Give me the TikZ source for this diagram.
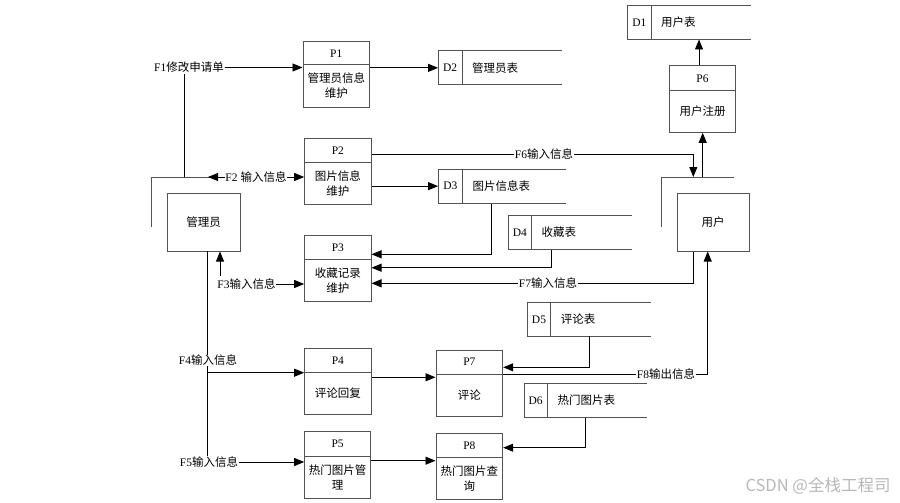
\documentclass[tikz,border=0pt]{standalone}
\usepackage{fontspec}
\setmainfont{Liberation Serif}
\newfontfamily\cjk{Noto Sans CJK SC}
\usetikzlibrary{arrows.meta}
\newcommand\proc[8]{%
  \node[bord,inner sep=0,minimum width={#4-#2},minimum height={#5-#3}] (#1) at ({(#2+#4)/2},{(#3+#5)/2}) {};
  \draw[bord] (#2,#6) -- (#4,#6);
  \node[txt] (#1id) at ({(#2+#4)/2},{(#3+#6)/2}) {#7};
  \node[ctxt] (#1tx) at ({(#2+#4)/2},{(#6+#5)/2}) {#8};
}
\newcommand\dstore[8]{%
  \draw[bord] (#5,#3) -- (#2,#3) -- (#2,#6) -- (#5,#6);
  \draw[bord] (#4,#3) -- (#4,#6);
  \node[inner sep=0,minimum width={#5-#2},minimum height={#6-#3}] (#1) at ({(#2+#5)/2},{(#3+#6)/2}) {};
  \node[txt] (#1id) at ({(#2+#4)/2},{(#3+#6)/2}) {#7};
  \node[ctxt,anchor=west] (#1tx) at ({#4+9},{(#3+#6)/2}) {#8};
}
\newcommand\entity[6]{%
  \draw[bord] ({#2-16},{#3+34}) -- ({#2-16},{#3-16}) -- ({#4-15},{#3-16});
  \node[bord,ctxt,inner sep=0,minimum width={#4-#2},minimum height={#5-#3}] (#1) at ({(#2+#4)/2},{(#3+#5)/2}) {#6};
}
\begin{document}
\begin{tikzpicture}[x=1pt,y=-1pt,
  bord/.style={draw=black!68,line width=1pt},
  ln/.style={draw=black,line width=0.85pt},
  arr/.style={ln,-{Triangle[length=10pt,width=8pt]}},
  txt/.style={inner sep=1pt,font=\fontsize{11.5}{15}\selectfont,align=center},
  ctxt/.style={txt,font={\fontsize{11.5}{15}\selectfont\cjk}},
  lbl/.style={txt,fill=white,inner sep=0.5pt},
]
\useasboundingbox (0,0) rectangle (900,503);

% processes
\proc{P1}{303}{42}{369.5}{107}{65}{P1}{管理员信息\\维护}
\proc{P2}{304.7}{138.3}{371}{204.3}{162.3}{P2}{图片信息\\维护}
\proc{P3}{304.7}{235}{371}{301}{259.7}{P3}{收藏记录\\维护}
\proc{P4}{304.7}{348.3}{371}{414.3}{372.7}{P4}{评论回复}
\proc{P5}{304.7}{431.7}{370.5}{498.3}{456.3}{P5}{热门图片管\\理}
\proc{P6}{669.3}{66}{735.7}{132.3}{90.7}{P6}{用户注册}
\proc{P7}{436}{350}{502.7}{416}{374}{P7}{评论}
\proc{P8}{436}{433.3}{502.7}{499.3}{457.3}{P8}{热门图片查\\询}

% data stores
\dstore{D1}{627.7}{5.7}{651}{751}{39.3}{D1}{用户表}
\dstore{D2}{438.3}{50.7}{462}{561.7}{85}{D2}{管理员表}
\dstore{D3}{438.3}{169}{462.3}{566}{203.3}{D3}{图片信息表}
\dstore{D4}{508.3}{215.3}{531.3}{631.7}{249.7}{D4}{收藏表}
\dstore{D5}{527.3}{302.7}{550.7}{651}{336}{D5}{评论表}
\dstore{D6}{524}{383.3}{547.3}{647.3}{417.3}{D6}{热门图片表}

% external entities
\entity{A}{167}{193}{240}{251}{管理员}
\entity{U}{677}{193}{749}{251}{用户}

% F1
\node[lbl] (f1) at (189,67.5) {F1{\cjk 修改申请单}};
\coordinate (admTopA) at (184.3,177);
\draw[ln] (admTopA) -- (admTopA |- f1.south);
\draw[arr] (f1.east) -- (P1.west |- f1.east);

% F2
\node[lbl] (f2) at (256,177) {F2 {\cjk 输入信息}};
\coordinate (admTopB) at (208,177);
\draw[arr] (f2.west) -- (admTopB);
\draw[arr] (f2.east) -- (P2.west |- f2.east);

% F3
\node[lbl] (f3) at (246.5,284) {F3{\cjk 输入信息}};
\draw[arr] (f3.east) -- (P3.west |- f3.east);
\coordinate (f3up) at (220,276);
\draw[arr] (f3up) -- (A.south -| f3up);

% admin vertical, F4, F5
\coordinate (admV) at (207.7,251);
\node[lbl] (f5) at (209,462) {F5{\cjk 输入信息}};
\draw[ln] (admV) -- (admV |- f5.north);
\node[lbl] (f4) at (208,360.5) {F4{\cjk 输入信息}};
\coordinate (f4j) at (207.7,372.7);
\draw[arr] (f4j) -- (P4.west |- f4j);
\draw[arr] (f5.east) -- (P5.west |- f5.east);

% P1->D2, P2->D3
\draw[arr] (P1.east |- D2.west) -- (D2.west);
\draw[arr] (P2.east |- D3.west) -- (D3.west);

% F6
\coordinate (f6b) at (693.3,154.3);
\coordinate (f6c) at (693.3,177);
\draw[arr] (P2.east |- f6b) -- (f6b) -- (f6c);
\node[lbl] (f6) at (544,154.3) {F6{\cjk 输入信息}};

% user -> P6 -> D1
\coordinate (uTop) at (702.7,177);
\draw[arr] (uTop) -- (P6.south -| uTop);
\coordinate (p6top) at (699,66);
\draw[arr] (P6.north -| p6top) -- (D1.south -| p6top);

% D3 -> P3, D4 -> P3
\coordinate (d3b) at (491.7,254.3);
\draw[arr] (D3.south -| d3b) -- (d3b) -- (P3.east |- d3b);
\coordinate (d4b) at (551.7,267.7);
\draw[arr] (D4.south -| d4b) -- (d4b) -- (P3.east |- d4b);

% F7
\coordinate (f7b) at (693.3,283.3);
\draw[arr] (U.south -| f7b) -- (f7b) -- (P3.east |- f7b);
\node[lbl] (f7) at (548,283.3) {F7{\cjk 输入信息}};

% P4->P7, P5->P8
\coordinate (y47) at (400,377.3);
\draw[arr] (P4.east |- y47) -- (P7.west |- y47);
\coordinate (y58) at (400,460.7);
\draw[arr] (P5.east |- y58) -- (P8.west |- y58);

% D5 -> P7
\coordinate (d5b) at (589,367.3);
\draw[arr] (D5.south -| d5b) -- (d5b) -- (P7.east |- d5b);

% F8
\coordinate (f8b) at (707.7,374);
\draw[arr] (P7.east |- f8b) -- (f8b) -- (U.south -| f8b);
\node[lbl] (f8) at (666,374) {F8{\cjk 输出信息}};

% D6 -> P8
\coordinate (d6b) at (585.3,447.7);
\draw[arr] (D6.south -| d6b) -- (d6b) -- (P8.east |- d6b);

% watermark
\node[inner sep=0,text=black!28,font=\fontsize{16.5}{19}\selectfont] (wm) at (818,486) {\cjk CSDN @全栈工程司};
\end{tikzpicture}
\end{document}
